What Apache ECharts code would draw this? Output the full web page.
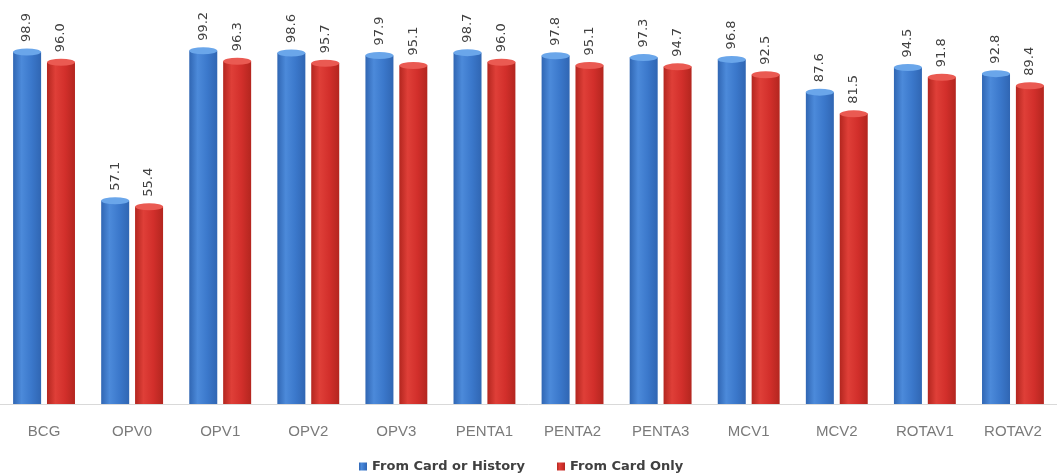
<!DOCTYPE html>
<html>
<head>
<meta charset="utf-8">
<script src="https://cdn.jsdelivr.net/npm/echarts@6/dist/echarts.min.js"></script>
<style>
  html, body { margin: 0; padding: 0; background: #fff; }
  #chart { width: 1057px; height: 474px; }
  #err { position: absolute; left: 300px; top: 200px; font: 12px monospace; color: #000; background: #ff0; }
</style>
</head>
<body>
<div id="chart"></div>
<div id="err"></div>
<script>
const errBox = document.getElementById('err');
window.onerror = function (m) { errBox.textContent += ' ERR:' + m; };
const origErr = console.error, origWarn = console.warn;
console.error = function () { errBox.textContent += ' CE:' + Array.from(arguments).join(' '); origErr.apply(console, arguments); };
console.warn = function () { errBox.textContent += ' CW:' + Array.from(arguments).join(' '); origWarn.apply(console, arguments); };

// Vaccination coverage by antigen
const categories = ['BCG', 'OPV0', 'OPV1', 'OPV2', 'OPV3', 'PENTA1', 'PENTA2', 'PENTA3', 'MCV1', 'MCV2', 'ROTAV1', 'ROTAV2'];
const cardOrHistory = [98.9, 57.1, 99.2, 98.6, 97.9, 98.7, 97.8, 97.3, 96.8, 87.6, 94.5, 92.8];
const cardOnly = [96.0, 55.4, 96.3, 95.7, 95.1, 96.0, 95.1, 94.7, 92.5, 81.5, 91.8, 89.4];
const seriesNames = ['From Card or History', 'From Card Only'];

const BAR_W = 28;
const HALF_OFF = 17;

function cylinder(edge, mid, light) {
  return new echarts.graphic.LinearGradient(0, 0, 1, 0, [
    { offset: 0, color: edge },
    { offset: 0.3, color: light },
    { offset: 0.65, color: mid },
    { offset: 1, color: edge }
  ]);
}

function valueLabel() {
  return {
    show: true,
    position: 'top',
    rotate: 90,
    align: 'left',
    verticalAlign: 'middle',
    distance: 10,
    fontFamily: 'DejaVu Sans, sans-serif',
    fontSize: 13,
    color: '#404040',
    formatter: p => Number(p.value).toFixed(1)
  };
}

try {
const chart = echarts.init(document.getElementById('chart'));
chart.setOption({
  animation: false,
  backgroundColor: '#fff',
  color: ['#3a70c0', '#c82c28'],
  grid: { left: 0, top: 48, width: 1068, height: 356 },
  legend: {
    data: seriesNames,
    top: 455,
    left: 354,
    itemWidth: 8,
    itemHeight: 8,
    itemGap: 32,
    icon: 'rect',
    textStyle: { fontFamily: 'DejaVu Sans, sans-serif', fontSize: 13, fontWeight: 'bold', color: '#404040' }
  },
  xAxis: {
    type: 'category',
    data: categories,
    axisLine: { lineStyle: { color: '#d9d9d9' } },
    axisTick: { show: false },
    axisLabel: { margin: 20, fontFamily: 'Liberation Sans, sans-serif', fontSize: 15, color: '#7a7a7a' }
  },
  yAxis: { type: 'value', min: 0, max: 100, show: false },
  series: [
    {
      name: seriesNames[0],
      type: 'bar',
      data: cardOrHistory,
      barWidth: BAR_W,
      barGap: '21%',
      itemStyle: { color: cylinder('#3066b3', '#3b78cb', '#4c8ada') },
      label: valueLabel()
    },
    {
      name: seriesNames[1],
      type: 'bar',
      data: cardOnly,
      barWidth: BAR_W,
      itemStyle: { color: cylinder('#b3261f', '#d22f2b', '#df3f38') },
      label: valueLabel()
    },
    {
      type: 'scatter',
      data: cardOrHistory,
      symbol: 'circle',
      symbolSize: [BAR_W, 7],
      symbolOffset: [-HALF_OFF, 0],
      itemStyle: { color: '#6aa6ea', opacity: 1 },
      z: 3
    },
    {
      type: 'scatter',
      data: cardOnly,
      symbol: 'circle',
      symbolSize: [BAR_W, 7],
      symbolOffset: [HALF_OFF, 0],
      itemStyle: { color: '#ea5a52', opacity: 1 },
      z: 3
    }
  ]
});
} catch (e) { errBox.textContent += ' TC:' + e.message; }
</script>
</body>
</html>
